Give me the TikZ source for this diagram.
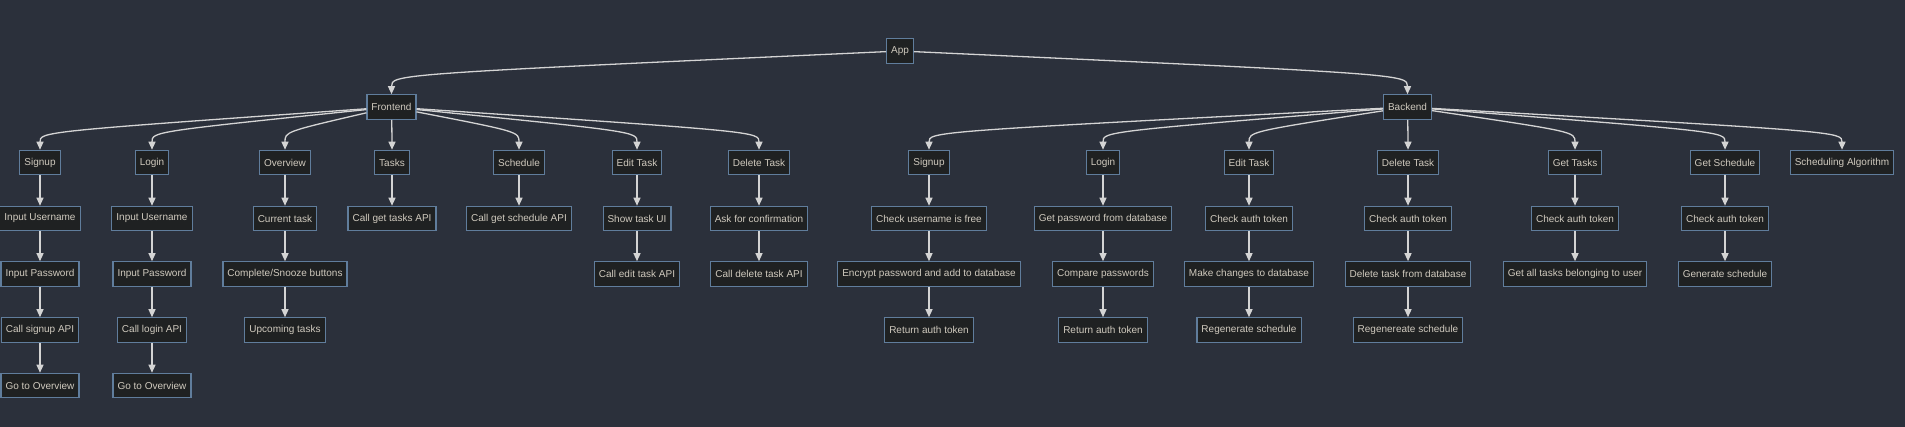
\documentclass[tikz,border=0pt]{standalone}
\usepackage{fontspec}
\setmainfont{Liberation Sans}
\usetikzlibrary{arrows.meta,calc}
\definecolor{bgcol}{RGB}{43,48,59}
\definecolor{nodefill}{RGB}{31,33,34}
\definecolor{nodeborder}{RGB}{96,125,156}
\definecolor{nodetext}{RGB}{208,202,190}
\definecolor{edgecol}{RGB}{212,212,212}
\begin{document}
\begin{tikzpicture}[x=1pt,y=-1pt,
  box/.style={draw=nodeborder, fill=nodefill, text=nodetext, line width=1.1pt,
    inner xsep=4.5pt, inner ysep=0pt, minimum height=24.5pt,
    font=\fontsize{10}{12}\selectfont},
  edge/.style={draw=edgecol, line width=1.3pt, -{Triangle[length=8pt,width=7pt]}}]
\fill[bgcol] (0,0) rectangle (1905,427);
\useasboundingbox (0,0) rectangle (1905,427);
% level 0 and 1
\node[box] (app) at (900,51) {App};
\node[box] (fe) at (391.5,107) {Frontend};
\node[box] (be) at (1407.5,107) {Backend};
% level 2
\node[box] (fsu) at (40,162.5) {Signup};
\node[box] (fli) at (152,162.5) {Login};
\node[box] (fov) at (285,162.5) {Overview};
\node[box] (fta) at (392,162.5) {Tasks};
\node[box] (fsc) at (519,162.5) {Schedule};
\node[box] (fed) at (637,162.5) {Edit Task};
\node[box] (fde) at (759,162.5) {Delete Task};
\node[box] (bsu) at (929,162.5) {Signup};
\node[box] (bli) at (1103,162.5) {Login};
\node[box] (bed) at (1249,162.5) {Edit Task};
\node[box] (bde) at (1408,162.5) {Delete Task};
\node[box] (bgt) at (1575,162.5) {Get Tasks};
\node[box] (bgs) at (1725,162.5) {Get Schedule};
\node[box] (bsa) at (1842,162.5) {Scheduling Algorithm};
% level 3
\node[box] (fsu1) at (40,218.5) {Input Username};
\node[box] (fli1) at (152,218.5) {Input Username};
\node[box] (fov1) at (285,218.5) {Current task};
\node[box] (fta1) at (392,218.5) {Call get tasks API};
\node[box] (fsc1) at (519,218.5) {Call get schedule API};
\node[box] (fed1) at (637,218.5) {Show task UI};
\node[box] (fde1) at (759,218.5) {Ask for confirmation};
\node[box] (bsu1) at (929,218.5) {Check username is free};
\node[box] (bli1) at (1103,218.5) {Get password from database};
\node[box] (bed1) at (1249,218.5) {Check auth token};
\node[box] (bde1) at (1408,218.5) {Check auth token};
\node[box] (bgt1) at (1575,218.5) {Check auth token};
\node[box] (bgs1) at (1725,218.5) {Check auth token};
% level 4
\node[box] (fsu2) at (40,274) {Input Password};
\node[box] (fli2) at (152,274) {Input Password};
\node[box] (fov2) at (285,274) {Complete/Snooze buttons};
\node[box] (fed2) at (637,274) {Call edit task API};
\node[box] (fde2) at (759,274) {Call delete task API};
\node[box] (bsu2) at (929,274) {Encrypt password and add to database};
\node[box] (bli2) at (1103,274) {Compare passwords};
\node[box] (bed2) at (1249,274) {Make changes to database};
\node[box] (bde2) at (1408,274) {Delete task from database};
\node[box] (bgt2) at (1575,274) {Get all tasks belonging to user};
\node[box] (bgs2) at (1725,274) {Generate schedule};
% level 5
\node[box] (fsu3) at (40,330) {Call signup API};
\node[box] (fli3) at (152,330) {Call login API};
\node[box] (fov3) at (285,330) {Upcoming tasks};
\node[box] (bsu3) at (929,330) {Return auth token};
\node[box] (bli3) at (1103,330) {Return auth token};
\node[box] (bed3) at (1249,330) {Regenerate schedule};
\node[box] (bde3) at (1408,330) {Regenereate schedule};
% level 6
\node[box] (fsu4) at (40,385.5) {Go to Overview};
\node[box] (fli4) at (152,385.5) {Go to Overview};
% curved edges
\foreach \p/\c in {app/fe, app/be}
  \draw[edge] (\p) .. controls ($(\c.north)+(0,-20)$) .. (\c.north);
\foreach \c in {fsu,fli,fov,fta,fsc,fed,fde}
  \draw[edge] (fe) .. controls ($(\c.north)+(0,-18)$) .. (\c.north);
\foreach \c in {bsu,bli,bed,bde,bgt,bgs,bsa}
  \draw[edge] (be) .. controls ($(\c.north)+(0,-18)$) .. (\c.north);
% straight edges
\foreach \a/\b in {fsu/fsu1,fsu1/fsu2,fsu2/fsu3,fsu3/fsu4,
  fli/fli1,fli1/fli2,fli2/fli3,fli3/fli4,
  fov/fov1,fov1/fov2,fov2/fov3,fta/fta1,fsc/fsc1,fed/fed1,fed1/fed2,fde/fde1,fde1/fde2,
  bsu/bsu1,bsu1/bsu2,bsu2/bsu3,bli/bli1,bli1/bli2,bli2/bli3,
  bed/bed1,bed1/bed2,bed2/bed3,bde/bde1,bde1/bde2,bde2/bde3,
  bgt/bgt1,bgt1/bgt2,bgs/bgs1,bgs1/bgs2}
  \draw[edge] (\a) -- (\b);
\end{tikzpicture}
\end{document}
